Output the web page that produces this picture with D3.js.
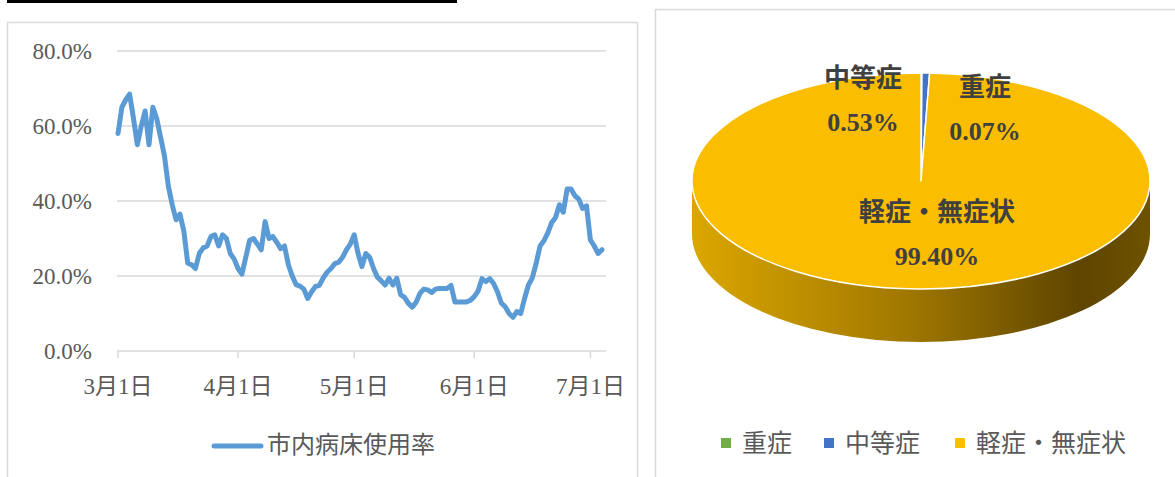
<!DOCTYPE html>
<html>
<head>
<meta charset="utf-8">
<script src="https://cdn.jsdelivr.net/npm/d3@7"></script>
<style>
  body { margin: 0; background: #fff; }
  text { font-family: "Liberation Serif", "Noto Sans CJK JP", serif; }
</style>
</head>
<body>
<svg id="chart" width="1175" height="477"></svg>
<script>
// bed usage rate (%), one value per day from 3/1
let startDate = new Date(2021, 2, 1);
let bedRate = [
  58, 65, 67, 68.5, 62, 55, 60, 64, 55, 65, 62, 57, 52, 44, 39, 35, 36.5, 32, 23.5, 23, 22, 26, 27.5, 28, 30.5, 31, 28, 31, 30, 26, 24.5,
  22, 20.5, 25, 29.5, 30, 28.5, 27, 34.5, 30, 30.5, 29, 27.3, 28, 23, 20, 17.7, 17.3, 16.5, 14, 15.8, 17.2, 17.5, 19.5, 21, 22, 23.3, 23.7, 25, 27, 28.5,
  31, 26, 22.5, 26, 25, 22, 19.7, 18.7, 17.6, 19.4, 17.6, 19.4, 15, 14.3, 12.7, 11.7, 13, 15.4, 16.5, 16.3, 15.6, 16.5, 16.7, 16.7, 16.7, 17.5, 13.1, 13.1, 13.1, 13.1, 13.5,
  14.5, 16, 19.3, 18.5, 19.3, 18, 15.8, 12.8, 11.8, 10, 9, 10.5, 10, 14, 17.6, 19.5, 23.4, 28, 29.4, 31.5, 34.2, 35.6, 39, 37, 43.2, 43.2, 41.4, 40.5, 38, 38.7,
  29.6, 28, 26, 27
];
let yTicks = [0, 20, 40, 60, 80];
let xTickDates = [new Date(2021, 2, 1), new Date(2021, 3, 1), new Date(2021, 4, 1), new Date(2021, 5, 1), new Date(2021, 6, 1)];
let lineName = "市内病床使用率";

// severity breakdown (%)
let severity = ["重症", "中等症", "軽症・無症状"];
let severityShare = [0.07, 0.53, 99.40];
let severityColor = ["#70ad47", "#4472c4", "#fabd00"];
let legendColor = ["#70ad47", "#4472c4", "#ffc000"];

let svg = d3.select("#chart");

function drawFrames() {
    svg.append("rect").attr("x", 7).attr("y", 0).attr("width", 450).attr("height", 3).attr("fill", "#000");
    svg.append("rect").attr("x", 7.5).attr("y", 22.5).attr("width", 630).attr("height", 470)
        .attr("fill", "none").attr("stroke", "#d9d9d9").attr("stroke-width", 1.5);
    svg.append("rect").attr("x", 655.5).attr("y", 9.5).attr("width", 530).attr("height", 480)
        .attr("fill", "none").attr("stroke", "#d9d9d9").attr("stroke-width", 1.5);
}

function drawLineChart() {
    let dates = bedRate.map((v, i) => d3.timeDay.offset(startDate, i));
    let x = d3.scaleTime().domain([startDate, dates[dates.length - 1]]).range([118, 602]);
    let y = d3.scaleLinear().domain([0, 80]).range([351, 51]);
    let g = svg.append("g");

    g.selectAll(".grid").data(yTicks).enter().append("line")
        .attr("x1", 117).attr("x2", 606)
        .attr("y1", d => y(d)).attr("y2", d => y(d))
        .attr("stroke", "#d9d9d9").attr("stroke-width", 1.5);

    g.selectAll(".ylab").data(yTicks).enter().append("text")
        .attr("x", 92).attr("y", d => y(d)).attr("dy", "0.35em")
        .attr("text-anchor", "end").attr("fill", "#595959")
        .style("font-size", "23px")
        .text(d => d.toFixed(1) + "%");

    g.selectAll(".xtick").data(xTickDates).enter().append("line")
        .attr("x1", d => x(d)).attr("x2", d => x(d))
        .attr("y1", 351).attr("y2", 358)
        .attr("stroke", "#d9d9d9").attr("stroke-width", 1.5);

    g.selectAll(".xlab").data(xTickDates).enter().append("text")
        .attr("x", d => x(d)).attr("y", 386).attr("dy", "0.35em")
        .attr("text-anchor", "middle").attr("fill", "#595959")
        .style("font-size", "23px")
        .text(d => (d.getMonth() + 1) + "月" + d.getDate() + "日");

    let line = d3.line().x((d, i) => x(dates[i])).y(d => y(d));
    g.append("path").datum(bedRate)
        .attr("d", line)
        .attr("fill", "none").attr("stroke", "#5b9bd5")
        .attr("stroke-width", 5)
        .attr("stroke-linejoin", "round").attr("stroke-linecap", "round");

    // legend
    g.append("line").attr("x1", 214).attr("x2", 261).attr("y1", 446).attr("y2", 446)
        .attr("stroke", "#5b9bd5").attr("stroke-width", 5).attr("stroke-linecap", "round");
    g.append("text").attr("x", 267).attr("y", 445).attr("dy", "0.35em")
        .attr("fill", "#595959").style("font-size", "24px").text(lineName);
}

function drawPie() {
    let cx = 921, cy = 181, rx = 229, ry = 108, depth = 53;
    let pt = a => [cx + rx * Math.sin(a), cy - ry * Math.cos(a)];
    let arcs = d3.pie().sort(null)(severityShare);

    let defs = svg.append("defs");
    let grad = defs.append("linearGradient").attr("id", "side")
        .attr("x1", "0%").attr("x2", "100%").attr("y1", "0%").attr("y2", "0%");
    grad.append("stop").attr("offset", "0%").attr("stop-color", "#dba600");
    grad.append("stop").attr("offset", "45%").attr("stop-color", "#a37a00");
    grad.append("stop").attr("offset", "85%").attr("stop-color", "#5e4500");
    grad.append("stop").attr("offset", "100%").attr("stop-color", "#6e5200");

    let g = svg.append("g");
    g.append("path")
        .attr("d", `M${cx + rx},${cy} A${rx},${ry} 0 0 1 ${cx - rx},${cy} L${cx - rx},${cy + depth} A${rx},${ry} 0 0 0 ${cx + rx},${cy + depth} Z`)
        .attr("fill", "url(#side)");

    g.selectAll(".slice").data(arcs).enter().append("path")
        .attr("d", d => {
            let p0 = pt(d.startAngle), p1 = pt(d.endAngle);
            let large = d.endAngle - d.startAngle > Math.PI ? 1 : 0;
            return `M${cx},${cy} L${p0[0]},${p0[1]} A${rx},${ry} 0 ${large} 1 ${p1[0]},${p1[1]} Z`;
        })
        .attr("fill", (d, i) => severityColor[i])
        .attr("stroke", "#fff").attr("stroke-width", 1.5).attr("stroke-linejoin", "round");

    let labelPos = [[985, 87], [863, 78], [937, 212]];
    arcs.forEach((d, i) => {
        let [lx, ly] = labelPos[i];
        g.append("text").attr("x", lx).attr("y", ly).attr("dy", "0.35em")
            .attr("text-anchor", "middle").attr("fill", "#404040")
            .style("font-size", "26px").style("font-weight", "bold")
            .text(severity[i]);
        g.append("text").attr("x", lx).attr("y", ly + 44).attr("dy", "0.35em")
            .attr("text-anchor", "middle").attr("fill", "#404040")
            .style("font-size", "26px").style("font-weight", "bold")
            .text(severityShare[i].toFixed(2) + "%");
    });

    // legend
    let legX = [721, 824, 955];
    severity.forEach((s, i) => {
        g.append("rect").attr("x", legX[i]).attr("y", 438).attr("width", 10).attr("height", 10)
            .attr("fill", legendColor[i]);
        g.append("text").attr("x", legX[i] + 21).attr("y", 443).attr("dy", "0.35em")
            .attr("fill", "#595959").style("font-size", "25px").text(s);
    });
}

drawFrames();
drawLineChart();
drawPie();
</script>
</body>
</html>
